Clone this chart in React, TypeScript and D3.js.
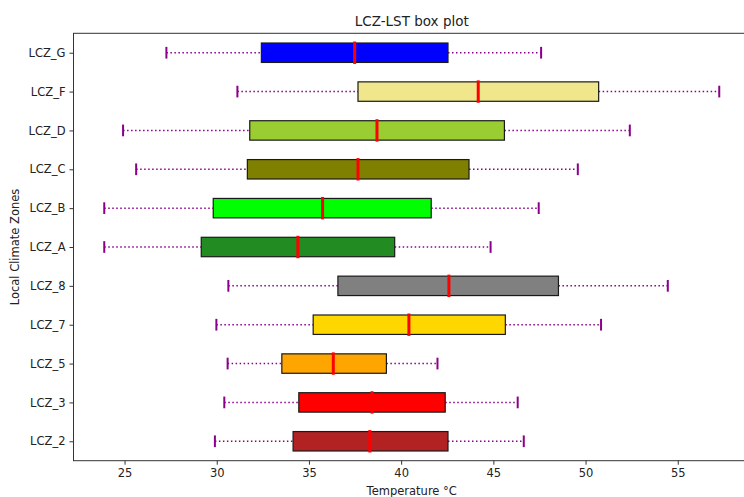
import React, { useRef, useEffect } from "react";
import * as d3 from "d3";

/* zones from bottom to top, as they sit on the y axis */
const zones = ["LCZ_2", "LCZ_3", "LCZ_5", "LCZ_7", "LCZ_8", "LCZ_A", "LCZ_B", "LCZ_C", "LCZ_D", "LCZ_F", "LCZ_G"];
const whiskerLow = [29.9, 30.41, 30.59, 29.98, 30.63, 23.9, 23.9, 25.63, 24.92, 31.12, 27.27];
const q1 = [34.14, 34.45, 33.53, 35.23, 36.57, 29.16, 29.81, 31.66, 31.79, 37.66, 32.42];
const medians = [38.3, 38.42, 36.32, 40.42, 42.59, 34.4, 35.74, 37.66, 38.69, 44.18, 37.48];
const q3 = [42.54, 42.39, 39.2, 45.65, 48.53, 39.65, 41.63, 43.68, 45.6, 50.71, 42.54];
const whiskerHigh = [46.65, 46.32, 41.97, 50.84, 54.46, 44.85, 47.46, 49.58, 52.4, 57.25, 47.59];
const boxColors = ["firebrick", "red", "orange", "gold", "gray", "forestgreen", "lime", "olive", "yellowgreen", "khaki", "blue"];
const xTicks = [25, 30, 35, 40, 45, 50, 55];

const BoxPlot = () => {
  const svgRef = useRef<SVGSVGElement>(null);

  const drawChart = () => {
    const svg = d3.select(svgRef.current);
    svg.selectAll("*").remove();
    const font = "DejaVu Sans, sans-serif";
    const left = 73.5;
    const top = 33.3;
    const bottom = 460.7;
    const right = 750;

    /* scales: matplotlib style 5% padding on x, 0.5 pad on categories */
    const xMin = d3.min(whiskerLow) as number;
    const xMax = d3.max(whiskerHigh) as number;
    const pad = (xMax - xMin) * 0.05;
    const xScale = d3.scaleLinear().domain([xMin - pad, xMax + pad]).range([left, right]);
    const yScale = d3.scaleLinear().domain([0.5, zones.length + 0.5]).range([bottom, top]);
    const half = (yScale(0) - yScale(0.25));

    const g = svg.append("g");

    zones.forEach((z, i) => {
      const y = yScale(i + 1);
      /* whiskers */
      [
        [whiskerLow[i], q1[i]],
        [q3[i], whiskerHigh[i]],
      ].forEach(([a, b]) => {
        g.append("line")
          .attr("x1", xScale(a)).attr("x2", xScale(b))
          .attr("y1", y).attr("y2", y)
          .attr("stroke", "#8b008b")
          .attr("stroke-width", 1.5)
          .attr("stroke-dasharray", "1.5,2.5");
      });
      /* caps */
      [whiskerLow[i], whiskerHigh[i]].forEach((v) => {
        g.append("line")
          .attr("x1", xScale(v)).attr("x2", xScale(v))
          .attr("y1", y - half / 2).attr("y2", y + half / 2)
          .attr("stroke", "#8b008b")
          .attr("stroke-width", 2)
          .attr("stroke-linecap", "square");
      });
      /* box */
      g.append("rect")
        .attr("x", xScale(q1[i]))
        .attr("y", y - half)
        .attr("width", xScale(q3[i]) - xScale(q1[i]))
        .attr("height", half * 2)
        .attr("fill", boxColors[i])
        .attr("stroke", "#1a1a1a")
        .attr("stroke-width", 1.2);
      /* median */
      g.append("line")
        .attr("x1", xScale(medians[i])).attr("x2", xScale(medians[i]))
        .attr("y1", y - half).attr("y2", y + half)
        .attr("stroke", "red")
        .attr("stroke-width", 3)
        .attr("stroke-linecap", "square");
    });

    /* frame */
    svg.append("rect")
      .attr("x", left).attr("y", top)
      .attr("width", right - left).attr("height", bottom - top)
      .attr("fill", "none")
      .attr("stroke", "#333")
      .attr("stroke-width", 1);

    /* x axis */
    const xAxis = svg.append("g")
      .attr("transform", `translate(0, ${bottom})`)
      .call(d3.axisBottom(xScale).tickValues(xTicks).tickSize(4).tickPadding(4).tickFormat(d3.format("d")));
    xAxis.select(".domain").remove();

    /* y axis */
    const yAxis = svg.append("g")
      .attr("transform", `translate(${left}, 0)`)
      .call(d3.axisLeft(yScale).tickValues(d3.range(1, zones.length + 1)).tickSize(4).tickPadding(4).tickFormat((d) => zones[(d as number) - 1]));
    yAxis.select(".domain").remove();

    svg.selectAll(".tick line").attr("stroke", "#333");
    svg.selectAll(".tick text")
      .attr("fill", "#222")
      .style("font-family", font)
      .style("font-size", "11.5px");

    /* title */
    svg.append("text")
      .attr("x", (left + right) / 2)
      .attr("y", 26)
      .attr("text-anchor", "middle")
      .style("font-family", font)
      .style("font-size", "13.5px")
      .attr("fill", "#222")
      .text("LCZ-LST box plot");

    /* axis labels */
    svg.append("text")
      .attr("x", (left + right) / 2)
      .attr("y", 495)
      .attr("text-anchor", "middle")
      .style("font-family", font)
      .style("font-size", "11.5px")
      .attr("fill", "#222")
      .text("Temperature °C");

    svg.append("text")
      .attr("transform", `translate(19, ${(top + bottom) / 2}) rotate(-90)`)
      .attr("text-anchor", "middle")
      .style("font-family", font)
      .style("font-size", "11.5px")
      .attr("fill", "#222")
      .text("Local Climate Zones");
  };

  useEffect(() => {
    drawChart();
  }, []);

  return (
    <svg
      ref={svgRef}
      width={744}
      height={497}
      style={{ position: "absolute", left: 0, top: 0, background: "white" }}
    ></svg>
  );
};

export default function App() {
  return <BoxPlot />;
}
